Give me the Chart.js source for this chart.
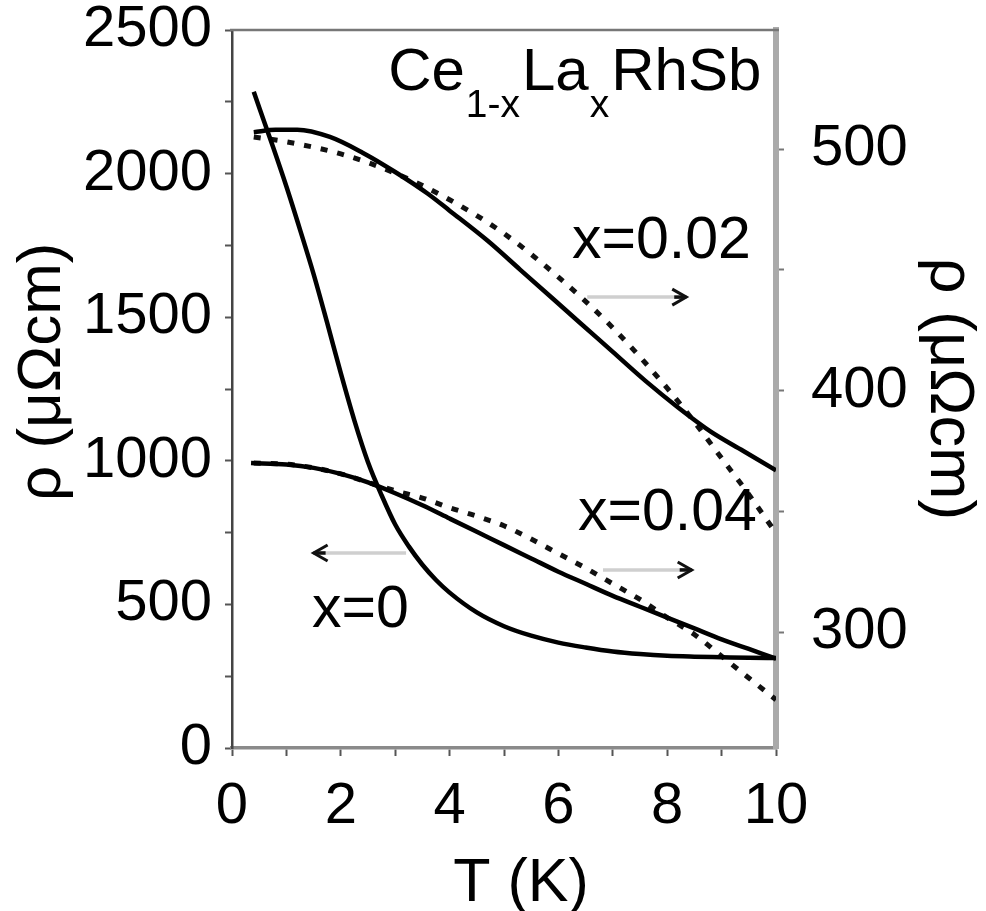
<!DOCTYPE html>
<html>
<head>
<meta charset="utf-8">
<script src="https://cdn.jsdelivr.net/npm/chart.js@4.4.1/dist/chart.umd.min.js"></script>
<style>
html,body{margin:0;padding:0;background:#fff;}
#wrap{width:986px;height:911px;position:relative;}
</style>
</head>
<body>
<div id="wrap"><canvas id="c" width="986" height="911"></canvas></div>
<script>
// ---- data ----
const T_x0   = [0.4, 0.5, 0.75, 1.0, 1.25, 1.5, 1.75, 2.0, 2.25, 2.5, 2.75, 3.0, 3.25, 3.5, 3.75, 4.0, 4.5, 5.0, 5.5, 6.0, 6.5, 7.0, 7.5, 8.0, 8.5, 9.0, 9.5, 10.0];
const rho_x0 = [2285, 2230, 2095, 1955, 1805, 1650, 1480, 1305, 1140, 995, 880, 778, 702, 638, 585, 541, 472, 424, 391, 367, 350, 336, 327, 321, 318, 316, 314, 313];

const T_x02   = [0.4, 0.8, 1.2, 1.8, 2.4, 3.0, 3.6, 4.0, 4.7, 5.3, 5.9, 6.4, 7.0, 7.6, 8.2, 8.8, 9.4, 10.0];
const rho_x02 = [507, 508, 508, 505, 498.5, 490.5, 481.5, 474.5, 462, 450, 438, 428, 416, 404, 393, 383, 375, 367];

const T_x02fit   = [0.4, 1.0, 2.0, 3.0, 4.0, 5.0, 6.0, 7.0, 8.0, 8.5, 9.0, 9.5, 10.0];
const rho_x02fit = [505, 503, 498, 490, 479, 465, 447, 426, 401, 387, 372, 357, 341];

const T_x04   = [0.35, 1.0, 1.5, 2.0, 2.5, 3.0, 3.5, 4.0, 4.5, 5.0, 5.5, 6.0, 6.5, 7.0, 7.5, 8.0, 8.5, 9.0, 9.5, 10.0];
const rho_x04 = [370, 369.4, 368, 365.5, 362, 357.5, 352.5, 347, 341.5, 336, 330.5, 325, 320, 315, 310.5, 306, 301.5, 297, 293, 289];

const T_x04fit   = [0.4, 1.0, 1.5, 2.0, 2.5, 3.0, 3.5, 4.0, 4.5, 5.0, 5.5, 6.0, 6.5, 7.0, 7.5, 8.0, 8.5, 9.0, 9.5, 10.0];
const rho_x04fit = [370, 369.5, 368, 365.5, 362, 358.5, 355.5, 351.5, 348, 344, 338.5, 332.5, 326.5, 320, 313.5, 306, 299, 290, 281, 272];

const xTicks      = [0,1,2,3,4,5,6,7,8,9,10];
const leftTicks   = [0,250,500,750,1000,1250,1500,1750,2000,2250,2500];
const rightTicks  = [300,350,400,450,500];

// annotation texts, anchored in data coordinates
const labelX02 = {text:'x=0.02', T:6.25, rho:1706};
const labelX04 = {text:'x=0.04', T:6.36, rho:759};
const labelX0  = {text:'x=0',    T:1.47, rho:421};
const arrows = [
  {from:[6.53,1570], to:[8.35,1570]},
  {from:[6.82,620],  to:[8.45,620]},
  {from:[3.20,679],  to:[1.50,679]}
];
const compound = {T:2.87, rho:2291};

// ---- helpers ----
const pts = (xs, ys) => xs.map((x,i)=>({x:x, y:ys[i]}));
const FONT = '"Liberation Sans", Arial, Helvetica, sans-serif';

const annot = {
  id:'annot',
  afterDatasetsDraw(chart){
    const {ctx, chartArea:a, scales} = chart;
    const xs = scales.x, yl = scales.yL;
    ctx.save();
    // top frame
    ctx.strokeStyle = '#777'; ctx.lineWidth = 2.5;
    ctx.beginPath(); ctx.moveTo(a.left-2, a.top); ctx.lineTo(a.right+3, a.top); ctx.stroke();

    ctx.fillStyle = '#000';
    ctx.textBaseline = 'alphabetic';
    ctx.textAlign = 'left';
    ctx.font = '59px ' + FONT;
    [labelX02, labelX04, labelX0].forEach(l=>{
      ctx.fillText(l.text, xs.getPixelForValue(l.T), yl.getPixelForValue(l.rho));
    });
    // compound formula with subscripts
    let px = xs.getPixelForValue(compound.T), py = yl.getPixelForValue(compound.rho);
    const parts = [['Ce',0],['1-x',1],['La',0],['x',1],['RhSb',0]];
    parts.forEach(([s,sub])=>{
      ctx.font = (sub? '39px ':'60px ') + FONT;
      ctx.fillText(s, px, py + (sub? 27:0));
      px += ctx.measureText(s).width + (sub?2:1);
    });
    // arrows: gray shaft, black head
    arrows.forEach(ar=>{
      const x1 = xs.getPixelForValue(ar.from[0]), y1 = yl.getPixelForValue(ar.from[1]);
      const x2 = xs.getPixelForValue(ar.to[0]),   y2 = yl.getPixelForValue(ar.to[1]);
      const dir = Math.sign(x2-x1);
      ctx.strokeStyle = '#cfcfcf'; ctx.lineWidth = 3.5;
      ctx.beginPath(); ctx.moveTo(x1,y1); ctx.lineTo(x2 - dir*6, y2); ctx.stroke();
      ctx.strokeStyle = '#111'; ctx.lineWidth = 3;
      ctx.beginPath();
      ctx.moveTo(x2 - dir*14, y2-8); ctx.lineTo(x2, y2); ctx.lineTo(x2 - dir*14, y2+8);
      ctx.stroke();
      ctx.beginPath(); ctx.moveTo(x2 - dir*12, y2); ctx.lineTo(x2, y2); ctx.lineWidth=3.5; ctx.stroke();
    });
    ctx.restore();
  }
};

const solid = (data, axis) => ({data, yAxisID:axis, borderColor:'#000', borderWidth:4.5, pointRadius:0, fill:false, cubicInterpolationMode:'monotone'});
const dashed = (data, axis) => ({data, yAxisID:axis, borderColor:'#111', borderWidth:5, borderDash:[7,10], pointRadius:0, fill:false, cubicInterpolationMode:'monotone'});

new Chart(document.getElementById('c'), {
  type:'line',
  data:{
    datasets:[
      solid(pts(T_x0, rho_x0), 'yL'),
      solid(pts(T_x02, rho_x02), 'yR'),
      dashed(pts(T_x02fit, rho_x02fit), 'yR'),
      solid(pts(T_x04, rho_x04), 'yR'),
      dashed(pts(T_x04fit, rho_x04fit), 'yR')
    ]
  },
  options:{
    responsive:false,
    animation:false,
    layout:{padding:{top:30, left:0, right:0, bottom:0}},
    plugins:{legend:{display:false}, tooltip:{enabled:false}},
    scales:{
      x:{
        type:'linear', min:0, max:10, position:'bottom',
        afterBuildTicks:s=>{ s.ticks = xTicks.map(v=>({value:v})); },
        afterFit:s=>{ s.height = 163; },
        grid:{drawOnChartArea:false, drawTicks:true, tickLength:8, tickColor:'#555', tickWidth:2},
        border:{color:'#8a8a8a', width:3.5},
        ticks:{color:'#000', font:{family:FONT, size:58}, padding:16, maxRotation:0, autoSkip:false,
               callback:v=> (v%2===0 ? String(v) : '')},
        title:{display:true, text:'  T (K)', color:'#000', font:{family:FONT, size:61, lineHeight:1}, padding:{top:0, bottom:-4}}
      },
      yL:{
        type:'linear', min:0, max:2500, position:'left',
        afterBuildTicks:s=>{ s.ticks = leftTicks.map(v=>({value:v})); },
        afterFit:s=>{ s.width = 232; },
        grid:{drawOnChartArea:false, drawTicks:true, tickLength:7, tickColor:'#555', tickWidth:2},
        border:{color:'#444', width:2.5},
        ticks:{color:'#000', font:{family:FONT, size:58, lineHeight:0.1}, padding:13, autoSkip:false,
               callback:v=> (v%500===0 ? String(v) : '')},
        title:{display:true, text:'  ρ (μΩcm)', color:'#000', font:{family:FONT, size:62}, padding:{top:6, bottom:0}}
      },
      yR:{
        type:'linear', min:252, max:549.3, position:'right',
        afterBuildTicks:s=>{ s.ticks = rightTicks.map(v=>({value:v})); },
        afterFit:s=>{ s.width = 210; },
        grid:{drawOnChartArea:false, drawTicks:true, tickLength:8, tickColor:'#777', tickWidth:2},
        border:{color:'#aaa', width:6},
        ticks:{color:'#000', font:{family:FONT, size:58, lineHeight:0.1}, padding:27, autoSkip:false,
               callback:v=> (v%100===0 ? String(v) : '')},
        title:{display:true, text:'ρ (μΩcm)', color:'#000', font:{family:FONT, size:63}, padding:{top:0}}
      }
    }
  },
  plugins:[annot]
});
</script>
</body>
</html>
